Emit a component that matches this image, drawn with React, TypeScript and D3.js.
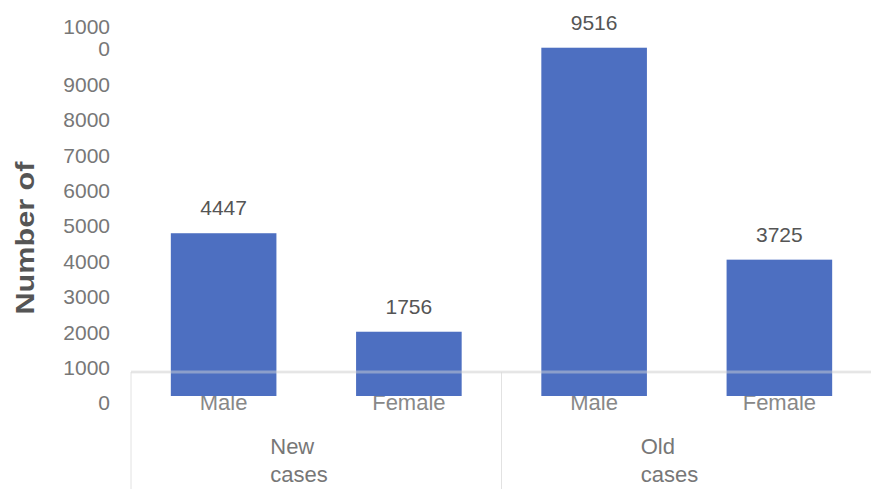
import * as d3 from "d3";

const groups = ["New cases", "Old cases"];
const sexes = ["Male", "Female"];
const newCases = [4447, 1756];
const oldCases = [9516, 3725];
const yTicks = [0, 1000, 2000, 3000, 4000, 5000, 6000, 7000, 8000, 9000, 10000];

const width = 871;
const height = 489;
const barColor = "#4d6fc1";
const font = "Liberation Sans, Arial, sans-serif";

export default function App() {
  const rows = groups.flatMap((g, gi) =>
    sexes.map((s, si) => ({
      key: `${g}-${s}`,
      group: g,
      sex: s,
      value: (gi === 0 ? newCases : oldCases)[si],
    }))
  );

  const x = d3
    .scaleBand<string>()
    .domain(rows.map((r) => r.key))
    .range([131, 872])
    .paddingInner(0.43)
    .paddingOuter(0.215);
  const y = d3.scaleLinear().domain([0, 10000]).range([396, 30]);
  // tick labels in the picture sit on their own spacing
  const yLabel = d3.scaleLinear().domain([0, 10000]).range([403, 49]);

  const step = x.step();
  const axisY = 372;
  const x0 = x.range()[0];

  return (
    <svg
      width={width}
      height={height}
      style={{ position: "absolute", left: 0, top: 0, background: "#fff" }}
      fontFamily={font}
    >
      {/* y tick labels */}
      {yTicks.map((t) =>
        t === 10000 ? (
          <text key={t} textAnchor="end" fontSize={21} fill="#777">
            <tspan x={110} y={yLabel(t) - 22} dy="0.35em">1000</tspan>
            <tspan x={110} y={yLabel(t)} dy="0.35em">0</tspan>
          </text>
        ) : (
          <text key={t} x={110} y={yLabel(t)} dy="0.35em" textAnchor="end" fontSize={21} fill="#777">
            {t}
          </text>
        )
      )}

      <text
        transform="translate(34,238) rotate(-90)"
        textAnchor="middle"
        fontSize={26}
        fontWeight="bold"
        fill="#555"
        textLength={153}
        lengthAdjust="spacingAndGlyphs"
      >
        Number of
      </text>

      {/* group separators */}
      {groups.map((g, i) => (
        <line key={g} x1={x0 + i * 2 * step} x2={x0 + i * 2 * step} y1={axisY} y2={height} stroke="#e2e2e2" />
      ))}
      <line x1={x0} x2={width} y1={axisY} y2={axisY} stroke="#e2e2e2" />

      {/* category labels (bars overlap them) */}
      {rows.map((r) => (
        <text key={r.key} x={x(r.key)! + x.bandwidth() / 2} y={410} textAnchor="middle" fontSize={22} fill="#888">
          {r.sex}
        </text>
      ))}

      {rows.map((r) => (
        <rect key={r.key} x={x(r.key)} y={y(r.value)} width={x.bandwidth()} height={y(0) - y(r.value)} fill={barColor} />
      ))}

      <line x1={x0} x2={width} y1={axisY} y2={axisY} stroke="#d9d9d9" strokeWidth={3} opacity={0.45} />

      {rows.map((r) => (
        <text key={r.key} x={x(r.key)! + x.bandwidth() / 2} y={y(r.value) - 18} textAnchor="middle" fontSize={21} fill="#555">
          {r.value}
        </text>
      ))}

      {/* group labels */}
      {groups.map((g, i) => {
        const cx = x0 + (i * 2 + 1) * step;
        const [a, b] = g.split(" ");
        return (
          <text key={g} fontSize={22} fill="#777">
            <tspan x={cx - 46} y={454}>{a}</tspan>
            <tspan x={cx - 46} y={482}>{b}</tspan>
          </text>
        );
      })}
    </svg>
  );
}
